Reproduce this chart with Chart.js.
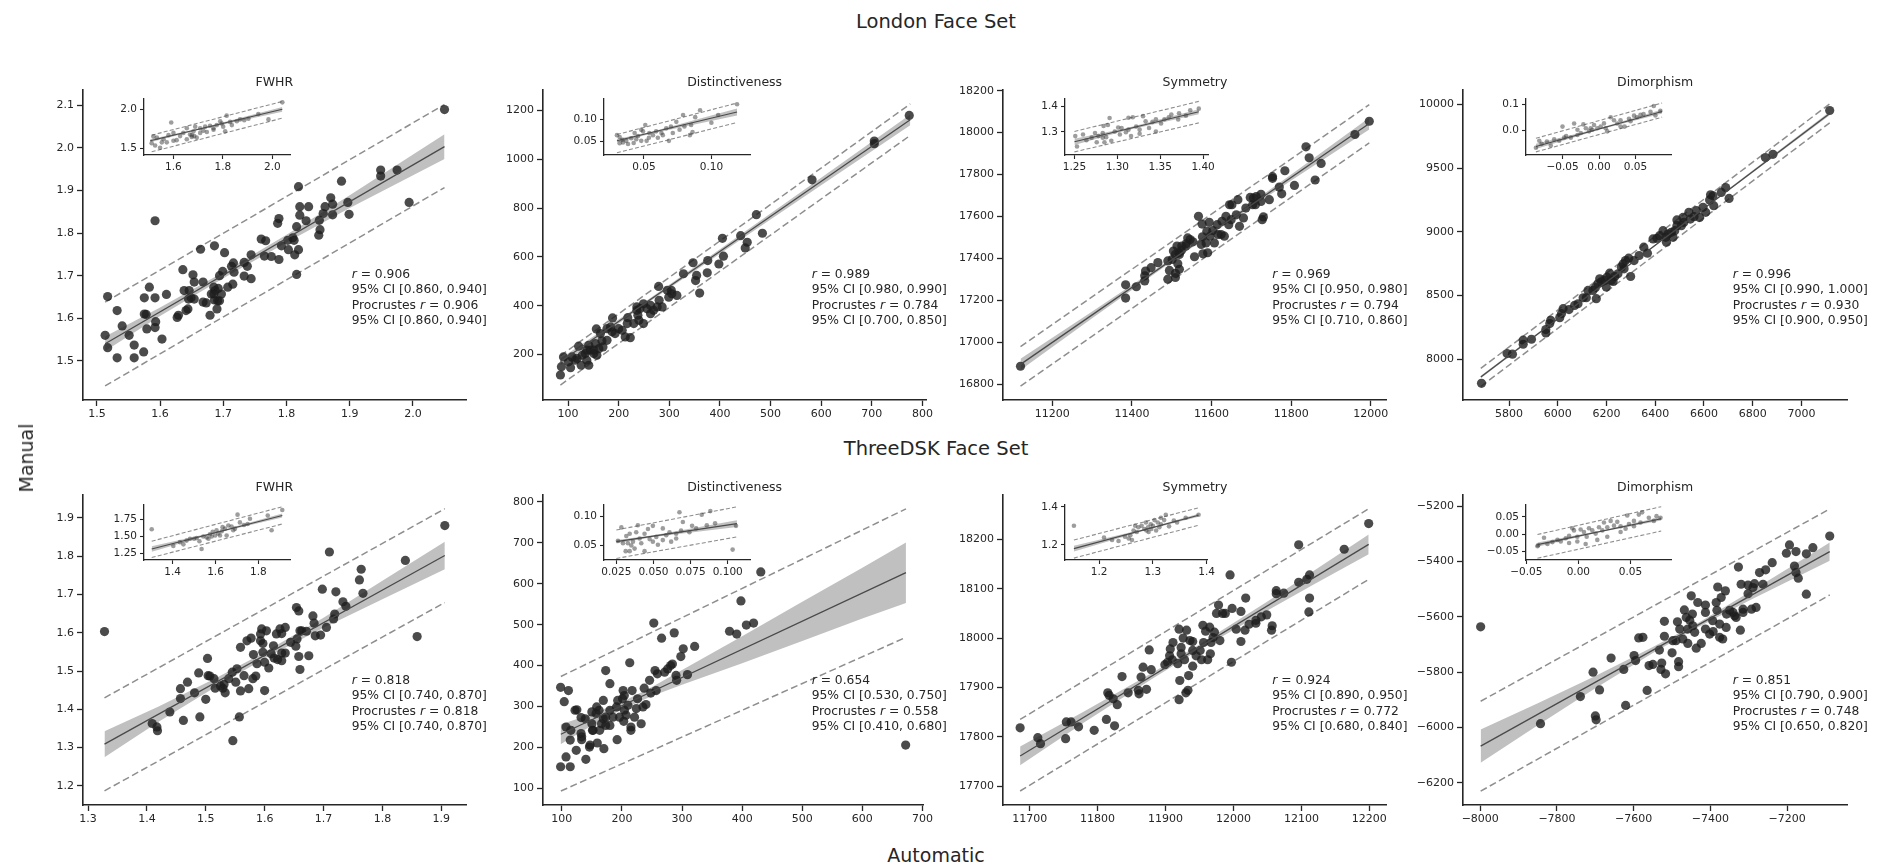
<!DOCTYPE html>
<html>
<head>
<meta charset="utf-8">
<script src="https://cdn.jsdelivr.net/npm/chart.js@4.4.1/dist/chart.umd.min.js"></script>
<style>
  body { margin: 0; background: #fff; width: 1887px; height: 868px; position: relative; overflow: hidden;
         font-family: 'DejaVu Sans', sans-serif; color: #262626; }
  canvas { position: absolute; }
  .t { position: absolute; white-space: nowrap; transform: translate(-50%, -50%); }
  .note { position: absolute; white-space: nowrap; font-size: 12.3px; line-height: 15.4px; }
</style>
</head>
<body>
<script>
// ---------- data: London Face Set ----------
const lonFwhrPts = [[2.050,2.090],[1.949,1.948],[1.949,1.934],[1.975,1.948],[1.887,1.922],[1.994,1.872],[1.819,1.909],[1.870,1.883],[1.873,1.868],[1.861,1.862],[1.821,1.862],[1.835,1.862],[1.897,1.872],[1.899,1.844],[1.873,1.843],[1.858,1.846],[1.821,1.842],[1.831,1.829],[1.852,1.830],[1.853,1.808],[1.851,1.795],[1.816,1.815],[1.788,1.834],[1.786,1.823],[1.788,1.738],[1.792,1.770],[1.802,1.783],[1.812,1.783],[1.810,1.789],[1.803,1.761],[1.819,1.761],[1.813,1.749],[1.816,1.703],[1.776,1.745],[1.765,1.746],[1.760,1.786],[1.767,1.782],[1.744,1.749],[1.738,1.722],[1.733,1.731],[1.744,1.693],[1.733,1.699],[1.716,1.730],[1.713,1.722],[1.717,1.708],[1.715,1.680],[1.707,1.673],[1.699,1.710],[1.694,1.700],[1.702,1.754],[1.686,1.770],[1.664,1.762],[1.652,1.702],[1.654,1.685],[1.668,1.685],[1.636,1.714],[1.638,1.665],[1.646,1.665],[1.649,1.648],[1.654,1.645],[1.645,1.645],[1.644,1.622],[1.641,1.618],[1.668,1.638],[1.673,1.636],[1.685,1.673],[1.687,1.665],[1.685,1.657],[1.681,1.657],[1.686,1.643],[1.690,1.622],[1.679,1.607],[1.691,1.641],[1.694,1.641],[1.697,1.657],[1.692,1.670],[1.629,1.607],[1.627,1.602],[1.610,1.656],[1.603,1.551],[1.592,1.829],[1.592,1.648],[1.593,1.592],[1.592,1.578],[1.579,1.575],[1.583,1.673],[1.575,1.648],[1.575,1.610],[1.578,1.609],[1.574,1.521],[1.559,1.537],[1.559,1.507],[1.551,1.560],[1.540,1.582],[1.532,1.618],[1.532,1.507],[1.517,1.651],[1.517,1.531],[1.513,1.560]];
const lonFwhrFit = [[1.513,1.540],[2.050,2.003]];
const lonFwhrHi = [[1.513,1.638],[2.050,2.102]];
const lonFwhrLo = [[1.513,1.441],[2.050,1.907]];
const lonFwhrBand = [[1.513,1.523,1.557],[1.6,1.605,1.625],[1.7,1.694,1.708],[1.8,1.778,1.796],[1.9,1.859,1.889],[2.05,1.974,2.032]];
const lonFwhrInPts = [[2.040,2.089],[1.943,1.940],[1.984,1.871],[1.591,1.831],[1.815,1.919],[1.869,1.871],[1.856,1.847],[1.829,1.839],[1.795,1.819],[1.775,1.798],[1.748,1.790],[1.728,1.778],[1.708,1.758],[1.688,1.778],[1.654,1.758],[1.681,1.718],[1.684,1.657],[1.674,1.645],[1.640,1.698],[1.627,1.657],[1.600,1.698],[1.580,1.669],[1.560,1.617],[1.533,1.637],[1.519,1.653],[1.512,1.565],[1.526,1.536],[1.546,1.508],[1.573,1.577],[1.613,1.605],[1.654,1.617],[1.735,1.710],[1.762,1.738],[1.809,1.718],[1.836,1.798],[1.886,1.859],[1.801,1.778],[1.762,1.758],[1.708,1.698],[1.667,1.677],[1.600,1.597],[1.553,1.577],[1.721,1.726],[1.789,1.847],[1.903,1.879],[1.674,1.669],[1.694,1.637]];
const lonFwhrInFit = [[1.506,1.597],[2.040,2.0]];
const lonFwhrInHi = [[1.512,1.669],[2.040,2.101]];
const lonFwhrInLo = [[1.512,1.456],[2.040,1.887]];
const lonFwhrInBand = [[1.506,1.577,1.617],[1.7,1.735,1.751],[2.04,1.97,2.03]];

const lonDistPts = [[774,1180],[705,1075],[705,1064],[582,916],[472,773],[484,697],[441,687],[454,660],[450,637],[405,676],[407,603],[398,571],[376,585],[375,535],[347,576],[354,524],[352,503],[360,452],[328,531],[315,442],[304,463],[296,463],[299,435],[279,479],[280,422],[276,395],[269,381],[263,401],[256,388],[249,408],[242,388],[236,381],[238,361],[240,340],[230,327],[249,327],[218,351],[217,327],[207,299],[200,306],[213,272],[223,269],[188,350],[184,313],[187,293],[177,306],[164,286],[156,305],[167,256],[154,245],[141,238],[144,218],[134,204],[137,177],[141,156],[126,156],[121,234],[108,190],[105,146],[91,190],[87,150],[85,116],[151,204],[157,197],[118,184],[169,231],[177,258],[193,286],[161,224],[263,367],[286,395],[305,449],[236,395],[151,218],[137,218],[128,197],[114,177],[101,170]];
const lonDistFit = [[85,170],[776,1162]];
const lonDistHi = [[85,195],[776,1227]];
const lonDistLo = [[85,75],[776,1098]];
const lonDistBand = [[85,156,184],[250,401,413],[400,613,631],[600,894,924],[776,1140,1184]];
const lonDistInPts = [[0.119,0.136],[0.0916,0.122],[0.105,0.111],[0.100,0.093],[0.088,0.106],[0.079,0.111],[0.085,0.0875],[0.084,0.064],[0.086,0.071],[0.074,0.095],[0.080,0.084],[0.0685,0.0507],[0.070,0.084],[0.0665,0.080],[0.063,0.069],[0.059,0.0728],[0.0567,0.064],[0.0537,0.058],[0.051,0.0875],[0.0493,0.0728],[0.048,0.0507],[0.0456,0.0618],[0.0431,0.069],[0.0406,0.0566],[0.0369,0.0507],[0.0345,0.047],[0.032,0.0596],[0.030,0.064],[0.032,0.0449],[0.0382,0.0434],[0.0424,0.0456],[0.052,0.0507],[0.0603,0.058],[0.064,0.064],[0.0714,0.069],[0.0764,0.0765],[0.054,0.069],[0.048,0.0765],[0.0443,0.0544],[0.034,0.053]];
const lonDistInFit = [[0.030,0.0507],[0.119,0.118]];
const lonDistInHi = [[0.030,0.0654],[0.119,0.139]];
const lonDistInLo = [[0.030,0.0228],[0.119,0.0934]];
const lonDistInBand = [[0.030,0.0467,0.0547],[0.055,0.0675,0.0715],[0.119,0.110,0.126]];

const lonSymPts = [[11996,18054],[11960,17991],[11837,17932],[11845,17880],[11875,17853],[11860,17774],[11784,17818],[11753,17782],[11753,17790],[11770,17740],[11776,17708],[11808,17748],[11745,17680],[11730,17598],[11727,17585],[11724,17706],[11712,17695],[11697,17691],[11705,17688],[11710,17656],[11666,17680],[11651,17656],[11645,17656],[11680,17593],[11670,17553],[11662,17608],[11643,17561],[11636,17601],[11626,17577],[11624,17514],[11632,17506],[11614,17561],[11603,17533],[11596,17506],[11588,17530],[11594,17572],[11576,17564],[11567,17601],[11577,17503],[11574,17467],[11590,17427],[11578,17422],[11557,17408],[11553,17479],[11546,17490],[11540,17498],[11536,17470],[11535,17459],[11524,17438],[11518,17427],[11504,17435],[11509,17419],[11501,17395],[11515,17375],[11519,17348],[11509,17329],[11509,17309],[11494,17343],[11490,17301],[11519,17419],[11525,17459],[11513,17459],[11490,17388],[11465,17380],[11448,17356],[11434,17340],[11432,17317],[11432,17293],[11411,17265],[11384,17274],[11384,17211],[11120,16886],[11586,17474],[11607,17474],[11616,17514],[11649,17585],[11686,17640],[11703,17656],[11724,17672]];
const lonSymFit = [[11120,16895],[11996,18043]];
const lonSymHi = [[11120,16980],[11996,18133]];
const lonSymLo = [[11120,16791],[11996,17951]];
const lonSymBand = [[11120,16868,16922],[11300,17115,17147],[11500,17385,17401],[11600,17517,17531],[11800,17772,17800],[11996,18015,18071]];
const lonSymInPts = [[1.395,1.390],[1.385,1.384],[1.372,1.372],[1.363,1.367],[1.351,1.333],[1.355,1.349],[1.345,1.349],[1.341,1.339],[1.333,1.341],[1.330,1.361],[1.318,1.357],[1.313,1.355],[1.322,1.321],[1.313,1.309],[1.310,1.299],[1.305,1.315],[1.301,1.317],[1.297,1.302],[1.291,1.354],[1.284,1.323],[1.283,1.278],[1.287,1.280],[1.283,1.296],[1.278,1.284],[1.274,1.296],[1.270,1.278],[1.264,1.268],[1.260,1.290],[1.251,1.284],[1.253,1.244],[1.276,1.260],[1.285,1.260],[1.293,1.266],[1.303,1.290],[1.316,1.284],[1.326,1.309],[1.337,1.315],[1.345,1.302],[1.360,1.357],[1.371,1.348],[1.380,1.363],[1.326,1.293],[1.289,1.327]];
const lonSymInFit = [[1.25,1.262],[1.395,1.378]];
const lonSymInHi = [[1.25,1.302],[1.395,1.418]];
const lonSymInLo = [[1.25,1.223],[1.395,1.335]];
const lonSymInBand = [[1.25,1.250,1.274],[1.31,1.306,1.314],[1.395,1.368,1.388]];

const lonDimPts = [[7116,9953],[6883,9609],[6852,9583],[6703,9262],[6689,9348],[6671,9309],[6637,9283],[6640,9205],[6627,9291],[6623,9249],[6596,9192],[6607,9153],[6582,9113],[6559,9119],[6538,9153],[6544,9100],[6514,9113],[6517,9074],[6489,9093],[6489,9048],[6480,9009],[6466,8996],[6452,8983],[6443,8957],[6473,8957],[6446,8918],[6418,8970],[6407,8949],[6368,8832],[6353,8879],[6334,8814],[6313,8774],[6291,8793],[6278,8774],[6272,8709],[6261,8722],[6299,8649],[6247,8670],[6234,8649],[6227,8610],[6213,8675],[6202,8644],[6193,8618],[6179,8605],[6165,8592],[6154,8561],[6158,8475],[6144,8540],[6124,8540],[6172,8631],[6117,8482],[6104,8482],[6083,8435],[6069,8422],[6046,8389],[6022,8396],[6008,8326],[6015,8357],[5971,8305],[5967,8279],[5951,8232],[5951,8206],[5892,8156],[5858,8149],[5858,8117],[5814,8039],[5792,8044],[5687,7810],[6199,8566],[6220,8618],[6268,8748],[6391,8944],[6432,9009],[6507,9048],[6569,9166]];
const lonDimFit = [[5684,7860],[7116,9930]];
const lonDimHi = [[5684,7927],[7116,10005]];
const lonDimLo = [[5684,7785],[7116,9856]];
const lonDimBand = [[5684,7850,7870],[6200,8602,8610],[6600,9180,9190],[7116,9916,9944]];
const lonDimInPts = [[0.084,0.0756],[0.075,0.094],[0.0705,0.072],[0.061,0.063],[0.052,0.051],[0.048,0.057],[0.041,0.045],[0.035,0.0146],[0.0295,0.039],[0.0205,0.039],[0.016,0.051],[0.0114,-0.0037],[0.0068,0.027],[0.0023,0.0146],[-0.0023,0.0085],[-0.0068,0.0207],[-0.0091,0.0024],[-0.0136,-0.0037],[-0.018,0.0085],[-0.0214,0.0232],[-0.025,-0.0098],[-0.0295,-0.018],[-0.0341,0.0268],[-0.0386,-0.028],[-0.045,-0.022],[-0.05,0.0146],[-0.0545,-0.040],[-0.0614,-0.034],[-0.0714,-0.0427],[-0.0786,-0.052],[-0.0864,-0.067],[-0.0818,-0.040],[-0.066,-0.0585],[-0.0477,-0.028],[-0.0295,0.0024],[-0.0114,0.0085],[0.025,0.0268],[0.0432,0.0354],[0.0568,0.0598],[0.0773,0.0573],[0.0295,0.0146],[0.0091,0.0085]];
const lonDimInFit = [[-0.0864,-0.062],[0.0864,0.073]];
const lonDimInHi = [[-0.0864,-0.0305],[0.0864,0.106]];
const lonDimInLo = [[-0.0864,-0.083],[0.0864,0.0512]];
const lonDimInBand = [[-0.0864,-0.072,-0.052],[0,0.0025,0.0085],[0.0864,0.065,0.081]];

// ---------- data: ThreeDSK Face Set ----------
const tdkFwhrPts = [[1.906,1.880],[1.839,1.789],[1.710,1.811],[1.764,1.766],[1.761,1.738],[1.767,1.703],[1.721,1.707],[1.698,1.714],[1.733,1.681],[1.738,1.669],[1.719,1.649],[1.717,1.636],[1.705,1.614],[1.695,1.594],[1.686,1.592],[1.682,1.644],[1.684,1.625],[1.671,1.604],[1.663,1.605],[1.655,1.584],[1.658,1.657],[1.654,1.666],[1.660,1.605],[1.675,1.540],[1.660,1.504],[1.658,1.538],[1.653,1.565],[1.644,1.575],[1.635,1.614],[1.629,1.598],[1.626,1.610],[1.635,1.547],[1.629,1.527],[1.622,1.530],[1.616,1.534],[1.611,1.545],[1.607,1.508],[1.603,1.605],[1.595,1.610],[1.597,1.572],[1.597,1.549],[1.593,1.597],[1.600,1.523],[1.600,1.449],[1.593,1.579],[1.581,1.543],[1.577,1.586],[1.587,1.519],[1.585,1.487],[1.580,1.480],[1.573,1.454],[1.565,1.488],[1.559,1.448],[1.557,1.380],[1.553,1.506],[1.551,1.471],[1.545,1.497],[1.539,1.480],[1.546,1.318],[1.533,1.443],[1.531,1.465],[1.529,1.455],[1.525,1.461],[1.516,1.455],[1.514,1.480],[1.507,1.487],[1.504,1.488],[1.503,1.533],[1.500,1.426],[1.490,1.380],[1.488,1.495],[1.481,1.443],[1.469,1.471],[1.462,1.371],[1.457,1.454],[1.457,1.428],[1.439,1.393],[1.418,1.344],[1.417,1.354],[1.409,1.363],[1.328,1.603],[1.859,1.590],[1.559,1.562],[1.570,1.579],[1.615,1.566],[1.620,1.597],[1.629,1.547]];
const tdkFwhrFit = [[1.328,1.309],[1.906,1.802]];
const tdkFwhrHi = [[1.328,1.430],[1.906,1.924]];
const tdkFwhrLo = [[1.328,1.187],[1.906,1.679]];
const tdkFwhrBand = [[1.328,1.275,1.343],[1.42,1.3675,1.4075],[1.52,1.4618,1.4838],[1.6,1.533,1.549],[1.7,1.6133,1.6393],[1.8,1.6876,1.7356],[1.906,1.766,1.838]];
const tdkFwhrInPts = [[1.912,1.886],[1.844,1.805],[1.862,1.591],[1.761,1.759],[1.703,1.818],[1.302,1.605],[1.403,1.364],[1.434,1.418],[1.465,1.441],[1.500,1.468],[1.525,1.432],[1.535,1.318],[1.559,1.486],[1.574,1.532],[1.587,1.568],[1.598,1.514],[1.613,1.545],[1.629,1.577],[1.644,1.614],[1.660,1.659],[1.675,1.645],[1.691,1.614],[1.652,1.514],[1.714,1.705],[1.733,1.668],[1.750,1.682],[1.567,1.468],[1.543,1.500],[1.512,1.477],[1.481,1.468],[1.582,1.500],[1.605,1.591],[1.621,1.514],[1.633,1.636],[1.683,1.591],[1.450,1.386]];
const tdkFwhrInFit = [[1.302,1.318],[1.912,1.805]];
const tdkFwhrInHi = [[1.302,1.432],[1.912,1.932]];
const tdkFwhrInLo = [[1.302,1.195],[1.912,1.682]];
const tdkFwhrInBand = [[1.302,1.278,1.358],[1.6,1.548,1.564],[1.912,1.775,1.835]];

const tdkDistPts = [[431,629],[672,206],[398,558],[407,499],[419,504],[379,484],[391,477],[253,504],[266,467],[287,480],[321,447],[302,441],[298,422],[284,404],[281,400],[276,392],[271,384],[255,388],[259,380],[309,378],[290,376],[291,364],[246,364],[237,345],[248,333],[226,319],[235,299],[224,295],[232,258],[217,339],[213,407],[202,339],[204,327],[201,319],[193,315],[191,299],[204,291],[207,279],[203,264],[215,250],[215,242],[210,303],[192,219],[180,356],[173,388],[169,315],[180,291],[185,274],[180,254],[173,254],[166,258],[173,274],[162,291],[169,270],[170,197],[158,299],[157,283],[150,287],[150,258],[152,242],[147,206],[146,201],[159,211],[140,171],[151,242],[133,226],[132,234],[133,219],[132,273],[125,292],[124,193],[114,218],[115,242],[114,153],[107,177],[98,153],[111,339],[104,312],[98,347],[107,250],[122,291],[139,270],[163,242],[196,274],[240,305],[257,339],[221,274]];
const tdkDistFit = [[98.4,232.3],[672.5,627.3]];
const tdkDistHi = [[98.4,373.4],[672.5,783]];
const tdkDistLo = [[98.4,93.6],[672.5,469.1]];
const tdkDistBand = [[98,208,256],[150,254,282],[200,293,311],[250,326,348],[300,353,389],[400,406,472],[500,460,556],[600,515,639],[672.5,553,701]];
const tdkDistInPts = [[0.0675,0.107],[0.0883,0.109],[0.0825,0.1027],[0.0915,0.088],[0.0859,0.0848],[0.1056,0.0837],[0.1033,0.0429],[0.076,0.0837],[0.0698,0.0902],[0.0686,0.0755],[0.0742,0.0728],[0.0653,0.0701],[0.0608,0.0728],[0.0563,0.0793],[0.0496,0.0837],[0.0463,0.0783],[0.0440,0.0701],[0.0395,0.0848],[0.0284,0.081],[0.034,0.0701],[0.0317,0.0663],[0.0261,0.0582],[0.0295,0.0538],[0.0328,0.0538],[0.0351,0.05],[0.0313,0.0402],[0.034,0.0402],[0.0373,0.0446],[0.044,0.0402],[0.0418,0.0538],[0.0474,0.0609],[0.0519,0.0647],[0.053,0.0511],[0.0563,0.0592],[0.0619,0.0565],[0.0496,0.0565],[0.0407,0.062],[0.0362,0.0565],[0.0586,0.0674],[0.0653,0.062],[0.0787,0.0793],[0.0384,0.0728]];
const tdkDistInFit = [[0.025,0.0565],[0.1062,0.0875]];
const tdkDistInHi = [[0.025,0.0766],[0.1062,0.1163]];
const tdkDistInLo = [[0.025,0.0277],[0.1062,0.0647]];
const tdkDistInBand = [[0.025,0.0535,0.0595],[0.05,0.0645,0.0675],[0.1062,0.0815,0.0935]];

const tdkSymPts = [[12199,18232],[12096,18189],[12163,18180],[11995,18128],[12112,18128],[12108,18119],[12096,18113],[12112,18081],[12111,18053],[12074,18091],[12063,18096],[12063,18090],[12018,18081],[12011,18054],[11998,18060],[11988,18050],[11984,18050],[11975,18050],[11978,18067],[12049,18047],[12041,18043],[12033,18030],[12023,18028],[12017,18016],[12004,18018],[12011,17993],[12057,18025],[12056,18016],[11997,17951],[11980,17995],[11972,18012],[11967,17991],[11966,17968],[11962,17956],[11965,18022],[11955,18026],[11959,18014],[11956,17991],[11953,17956],[11951,17975],[11940,17993],[11936,17995],[11940,17943],[11934,17924],[11933,17894],[11930,17889],[11945,17964],[11931,18016],[11920,18018],[11926,18000],[11923,17981],[11923,17968],[11928,17956],[11918,17948],[11921,17914],[11920,17875],[11910,17956],[11907,17978],[11906,17964],[11899,17946],[11879,17936],[11876,17976],[11867,17941],[11864,17921],[11872,17896],[11861,17887],[11860,17894],[11845,17889],[11836,17922],[11815,17889],[11817,17884],[11823,17877],[11829,17865],[11813,17835],[11825,17822],[11795,17813],[11772,17820],[11761,17830],[11754,17830],[11753,17796],[11712,17798],[11716,17786],[11686,17818],[11903,17951],[11911,17991],[11940,17975],[11970,18001],[12033,18036]];
const tdkSymFit = [[11686,17761],[12199,18190]];
const tdkSymHi = [[11686,17835],[12199,18262]];
const tdkSymLo = [[11686,17690],[12199,18119]];
const tdkSymBand = [[11686,17742,17780],[11780,17829,17851],[11880,17917,17929],[11950,17977,17987],[12050,18056,18074],[12120,18110,18138],[12199,18170,18210]];
const tdkSymInPts = [[1.153,1.300],[1.385,1.358],[1.361,1.342],[1.345,1.317],[1.339,1.328],[1.324,1.358],[1.321,1.330],[1.315,1.308],[1.309,1.317],[1.303,1.330],[1.300,1.300],[1.296,1.308],[1.291,1.292],[1.287,1.317],[1.284,1.283],[1.279,1.300],[1.273,1.292],[1.270,1.267],[1.264,1.275],[1.258,1.250],[1.255,1.233],[1.248,1.242],[1.236,1.220],[1.224,1.225],[1.209,1.238],[1.315,1.342],[1.330,1.297],[1.306,1.275],[1.292,1.267],[1.267,1.300],[1.261,1.225],[1.312,1.292],[1.288,1.275],[1.297,1.283]];
const tdkSymInFit = [[1.153,1.18],[1.385,1.355]];
const tdkSymInHi = [[1.153,1.225],[1.385,1.395]];
const tdkSymInLo = [[1.153,1.13],[1.385,1.303]];
const tdkSymInBand = [[1.153,1.165,1.195],[1.29,1.279,1.287],[1.385,1.347,1.363]];

const tdkDimPts = [[-7089,-5308],[-7194,-5340],[-7133,-5350],[-7177,-5364],[-7202,-5370],[-7150,-5372],[-7150,-5518],[-7181,-5416],[-7177,-5440],[-7171,-5460],[-7239,-5404],[-7256,-5430],[-7272,-5440],[-7327,-5420],[-7263,-5482],[-7285,-5480],[-7302,-5485],[-7320,-5482],[-7302,-5516],[-7289,-5494],[-7293,-5572],[-7315,-5572],[-7315,-5584],[-7322,-5648],[-7337,-5596],[-7341,-5584],[-7361,-5506],[-7381,-5492],[-7372,-5530],[-7385,-5548],[-7383,-5576],[-7376,-5626],[-7368,-5680],[-7376,-5674],[-7359,-5638],[-7358,-5590],[-7333,-5602],[-7394,-5614],[-7393,-5653],[-7413,-5557],[-7413,-5584],[-7433,-5548],[-7450,-5524],[-7468,-5575],[-7463,-5602],[-7454,-5612],[-7446,-5632],[-7459,-5644],[-7441,-5656],[-7437,-5713],[-7424,-5696],[-7459,-5696],[-7472,-5680],[-7490,-5686],[-7447,-5590],[-7413,-5644],[-7520,-5616],[-7486,-5618],[-7520,-5670],[-7500,-5730],[-7533,-5720],[-7527,-5767],[-7517,-5806],[-7529,-5790],[-7483,-5762],[-7483,-5780],[-7550,-5772],[-7560,-5776],[-7576,-5674],[-7587,-5676],[-7595,-5758],[-7599,-5740],[-7626,-5790],[-7565,-5866],[-7621,-5920],[-7659,-5749],[-7689,-5864],[-7706,-5800],[-7700,-5958],[-7698,-5972],[-7739,-5888],[-7843,-5986],[-7999,-5636],[-7480,-5644],[-7498,-5686],[-7402,-5662],[-7350,-5576],[-7281,-5566]];
const tdkDimFit = [[-7999,-6067],[-7089,-5364]];
const tdkDimHi = [[-7999,-5905],[-7089,-5210]];
const tdkDimLo = [[-7999,-6230],[-7089,-5521]];
const tdkDimBand = [[-7999,-6127,-6007],[-7850,-5992,-5912],[-7700,-5858,-5814],[-7550,-5731,-5709],[-7430,-5636,-5620],[-7300,-5542,-5512],[-7200,-5473,-5427],[-7089,-5397,-5331]];
const tdkDimInPts = [[0.0789,0.0477],[0.0751,0.0523],[0.0725,0.0385],[0.0677,0.0477],[0.0613,0.0633],[0.0581,0.0569],[0.0597,0.0339],[0.0534,0.0385],[0.0486,0.0294],[0.047,0.0541],[0.0454,0.0156],[0.0406,0.0229],[0.0374,0.0358],[0.0342,0.0248],[0.031,0.0385],[0.0278,0.0202],[0.0246,0.0339],[0.023,0.011],[0.0198,0.0202],[0.0166,0.0018],[0.0134,0.011],[0.0102,0.0174],[0.008,-0.0073],[0.0054,0.0064],[0.0022,0.0138],[-0.001,-0.0073],[-0.0042,0.011],[-0.0058,0.0174],[-0.0089,-0.0046],[-0.0121,-0.0119],[-0.0169,-0.0211],[-0.0201,-0.0165],[-0.0249,-0.0229],[-0.0297,-0.0284],[-0.033,-0.0101],[-0.0387,-0.0321],[-0.0393,-0.0349],[-0.0089,-0.0257],[0.007,-0.0284],[0.0278,-0.0073],[0.0406,0.0064],[0.0534,0.0229],[0.0182,-0.0165],[-0.001,-0.0211]];
const tdkDimInFit = [[-0.0393,-0.0303],[0.0796,0.045]];
const tdkDimInHi = [[-0.0393,-0.0009],[0.0796,0.0798]];
const tdkDimInLo = [[-0.0393,-0.0697],[0.0796,0.0092]];
const tdkDimInBand = [[-0.0393,-0.0363,-0.0243],[0.02,0.0053,0.0093],[0.0796,0.040,0.050]];

// ---------- axis ranges and ticks ----------
const mainXRange = [[1.478,2.084],[50.6,809],[11076,12038],[5611,7187],[1.2915,1.942],[68.7,701.6],[11660.8,12224.5],[-8045,-7044]];
const mainYRange = [[1.408,2.137],[13.6,1285.7],[16725,18205],[7679,10117],[1.150,1.961],[59.5,817.8],[17661.6,18290.8],[-6280,-5158]];
const mainXTicks = [[1.5,1.6,1.7,1.8,1.9,2.0],[100,200,300,400,500,600,700,800],[11200,11400,11600,11800,12000],[5800,6000,6200,6400,6600,6800,7000],[1.3,1.4,1.5,1.6,1.7,1.8,1.9],[100,200,300,400,500,600,700],[11700,11800,11900,12000,12100,12200],[-8000,-7800,-7600,-7400,-7200]];
const mainYTicks = [[1.5,1.6,1.7,1.8,1.9,2.0,2.1],[200,400,600,800,1000,1200],[16800,17000,17200,17400,17600,17800,18000,18200],[8000,8500,9000,9500,10000],[1.2,1.3,1.4,1.5,1.6,1.7,1.8,1.9],[100,200,300,400,500,600,700,800],[17700,17800,17900,18000,18100,18200],[-6200,-6000,-5800,-5600,-5400,-5200]];
const mainXDec = [1,0,0,0,1,0,0,0];
const mainYDec = [1,0,0,0,1,0,0,0];
const insetXRange = [[1.481,2.071],[0.0204,0.1286],[1.239,1.4065],[-0.1,0.0986],[1.266,1.948],[0.0167,0.115],[1.1364,1.401],[-0.0503,0.089]];
const insetYRange = [[1.415,2.141],[0.0176,0.15],[1.211,1.430],[-0.095,0.124],[1.159,1.968],[0.025,0.1207],[1.12,1.413],[-0.0748,0.0867]];
const insetXTicks = [[1.6,1.8,2.0],[0.05,0.10],[1.25,1.30,1.35,1.40],[-0.05,0,0.05],[1.4,1.6,1.8],[0.025,0.05,0.075,0.1],[1.2,1.3,1.4],[-0.05,0,0.05]];
const insetYTicks = [[1.5,2.0],[0.05,0.10],[1.3,1.4],[0,0.1],[1.25,1.5,1.75],[0.05,0.10],[1.2,1.4],[-0.05,0,0.05]];
const insetXDec = [1,2,2,2,1,3,1,2];
const insetYDec = [1,2,1,1,2,2,1,2];

// ---------- labels ----------
const setTitles = ['London Face Set', 'ThreeDSK Face Set'];
const measures = ['FWHR', 'Distinctiveness', 'Symmetry', 'Dimorphism'];
const rVals = ['0.906','0.989','0.969','0.996','0.818','0.654','0.924','0.851'];
const rCI = ['[0.860, 0.940]','[0.980, 0.990]','[0.950, 0.980]','[0.990, 1.000]','[0.740, 0.870]','[0.530, 0.750]','[0.890, 0.950]','[0.790, 0.900]'];
const procR = ['0.906','0.784','0.794','0.930','0.818','0.558','0.772','0.748'];
const procCI = ['[0.860, 0.940]','[0.700, 0.850]','[0.710, 0.860]','[0.900, 0.950]','[0.740, 0.870]','[0.410, 0.680]','[0.680, 0.840]','[0.650, 0.820]'];

// ---------- layout (page pixels) ----------
const colLeft = [82.7, 542.7, 1003.3, 1463.3];
const colRight = [466, 926.7, 1386.7, 1847];
const rowTop = [88, 493.3];
const rowBottom = [400, 805];
const insetLeft = [144, 604.3, 1065, 1525.5];
const insetRight = [290, 750.7, 1210.5, 1670.7];
const insetTop = [95, 500.7];
const insetBottom = [155, 559.3];
const noteX = [351.7, 811.7, 1272.3, 1732.7];
const noteY = [267, 673];

const MAIN = { padL: 70, padR: 8, padT: 8, padB: 26, tick: 6, font: 11, ptR: 4.6, ptC: 'rgba(30,30,30,0.8)',
               lw: 1.3, dash: [7, 3.5], dashW: 1.5, border: 1.6, tickW: 1.3 };
const INSET = { padL: 40, padR: 6, padT: 6, padB: 20, tick: 4, font: 10.5, ptR: 2.3, ptC: 'rgba(60,60,60,0.5)',
                lw: 1.1, dash: [4, 2.2], dashW: 1.1, border: 1.3, tickW: 1.1 };
const INK = '#262626';

function axis(range, ticks, dec, s, key) {
  return {
    type: 'linear', min: range[0], max: range[1],
    afterFit: sc => { if (key === 'x') sc.height = s.padB; else sc.width = s.padL; },
    afterBuildTicks: sc => { sc.ticks = ticks.map(v => ({ value: v })); },
    ticks: {
      callback: v => Number(v).toFixed(dec).replace('-', '\u2212'),
      font: { family: 'DejaVu Sans', size: s.font }, color: INK,
      padding: key === 'x' ? 2 : 3, maxRotation: 0, autoSkip: false
    },
    grid: { drawOnChartArea: false, drawTicks: true, tickLength: s.tick, tickColor: INK, tickWidth: s.tickW, color: INK },
    border: { display: true, color: INK, width: s.border }
  };
}

function drawPanel(box, s, xr, yr, xt, yt, xd, yd, pts, fit, hi, lo, band) {
  const c = document.createElement('canvas');
  const w = Math.round(box[2] - box[0] + s.padL + s.padR);
  const h = Math.round(box[3] - box[1] + s.padT + s.padB);
  c.width = w; c.height = h;
  c.style.width = w + 'px'; c.style.height = h + 'px';
  c.style.left = (box[0] - s.padL) + 'px';
  c.style.top = (box[1] - s.padT) + 'px';
  document.body.appendChild(c);
  const xy = a => a.map(d => ({ x: d[0], y: d[1] }));
  const line = (data, color, width, dash, order) =>
    ({ data: xy(data), showLine: true, borderColor: color, borderWidth: width, borderDash: dash, pointRadius: 0, fill: false, order: order });

  new Chart(c, {
    type: 'scatter',
    data: { datasets: [
      { data: band.map(d => ({ x: d[0], y: d[1] })), showLine: true, borderWidth: 0, pointRadius: 0, fill: false, order: 4 },
      { data: band.map(d => ({ x: d[0], y: d[2] })), showLine: true, borderWidth: 0, pointRadius: 0, fill: '-1',
        backgroundColor: 'rgba(150,150,150,0.6)', order: 4 },
      line(hi, '#8e8e8e', s.dashW, s.dash, 3),
      line(lo, '#8e8e8e', s.dashW, s.dash, 3),
      { data: xy(pts), pointRadius: s.ptR, backgroundColor: s.ptC, borderWidth: 0, order: 2 },
      line(fit, '#4a4a4a', s.lw, [], 1)
    ] },
    options: {
      responsive: false, animation: false, devicePixelRatio: 1, events: [],
      layout: { padding: { top: s.padT, right: s.padR, left: 0, bottom: 0 } },
      plugins: { legend: { display: false }, tooltip: { enabled: false } },
      scales: { x: axis(xr, xt, xd, s, 'x'), y: axis(yr, yt, yd, s, 'y') }
    }
  });
}

function addText(x, y, html, size, rotate) {
  const d = document.createElement('div');
  d.className = 't';
  d.style.left = x + 'px'; d.style.top = y + 'px'; d.style.fontSize = size + 'px';
  if (rotate) d.style.transform = 'translate(-50%, -50%) rotate(' + rotate + 'deg)';
  d.innerHTML = html;
  document.body.appendChild(d);
}

const mainSets = [
  [lonFwhrPts, lonFwhrFit, lonFwhrHi, lonFwhrLo, lonFwhrBand],
  [lonDistPts, lonDistFit, lonDistHi, lonDistLo, lonDistBand],
  [lonSymPts, lonSymFit, lonSymHi, lonSymLo, lonSymBand],
  [lonDimPts, lonDimFit, lonDimHi, lonDimLo, lonDimBand],
  [tdkFwhrPts, tdkFwhrFit, tdkFwhrHi, tdkFwhrLo, tdkFwhrBand],
  [tdkDistPts, tdkDistFit, tdkDistHi, tdkDistLo, tdkDistBand],
  [tdkSymPts, tdkSymFit, tdkSymHi, tdkSymLo, tdkSymBand],
  [tdkDimPts, tdkDimFit, tdkDimHi, tdkDimLo, tdkDimBand]
];
const insetSets = [
  [lonFwhrInPts, lonFwhrInFit, lonFwhrInHi, lonFwhrInLo, lonFwhrInBand],
  [lonDistInPts, lonDistInFit, lonDistInHi, lonDistInLo, lonDistInBand],
  [lonSymInPts, lonSymInFit, lonSymInHi, lonSymInLo, lonSymInBand],
  [lonDimInPts, lonDimInFit, lonDimInHi, lonDimInLo, lonDimInBand],
  [tdkFwhrInPts, tdkFwhrInFit, tdkFwhrInHi, tdkFwhrInLo, tdkFwhrInBand],
  [tdkDistInPts, tdkDistInFit, tdkDistInHi, tdkDistInLo, tdkDistInBand],
  [tdkSymInPts, tdkSymInFit, tdkSymInHi, tdkSymInLo, tdkSymInBand],
  [tdkDimInPts, tdkDimInFit, tdkDimInHi, tdkDimInLo, tdkDimInBand]
];

for (let i = 0; i < 8; i++) {
  const row = Math.floor(i / 4), col = i % 4;
  const box = [colLeft[col], rowTop[row], colRight[col], rowBottom[row]];
  drawPanel(box, MAIN, mainXRange[i], mainYRange[i], mainXTicks[i], mainYTicks[i], mainXDec[i], mainYDec[i], ...mainSets[i]);
  const ibox = [insetLeft[col], insetTop[row], insetRight[col], insetBottom[row]];
  drawPanel(ibox, INSET, insetXRange[i], insetYRange[i], insetXTicks[i], insetYTicks[i], insetXDec[i], insetYDec[i], ...insetSets[i]);

  addText((box[0] + box[2]) / 2, box[1] - 7.5, measures[col], 12.5);

  const n = document.createElement('div');
  n.className = 'note';
  n.style.left = noteX[col] + 'px';
  n.style.top = noteY[row] + 'px';
  n.innerHTML = '<i>r</i> = ' + rVals[i] + '<br>95% CI ' + rCI[i] +
                '<br>Procrustes <i>r</i> = ' + procR[i] + '<br>95% CI ' + procCI[i];
  document.body.appendChild(n);
}

addText(936, 20.5, setTitles[0], 19.5);
addText(936, 448, setTitles[1], 19.5);
addText(936, 855, 'Automatic', 19);
addText(26, 458, 'Manual', 19, -90);
</script>
</body>
</html>
